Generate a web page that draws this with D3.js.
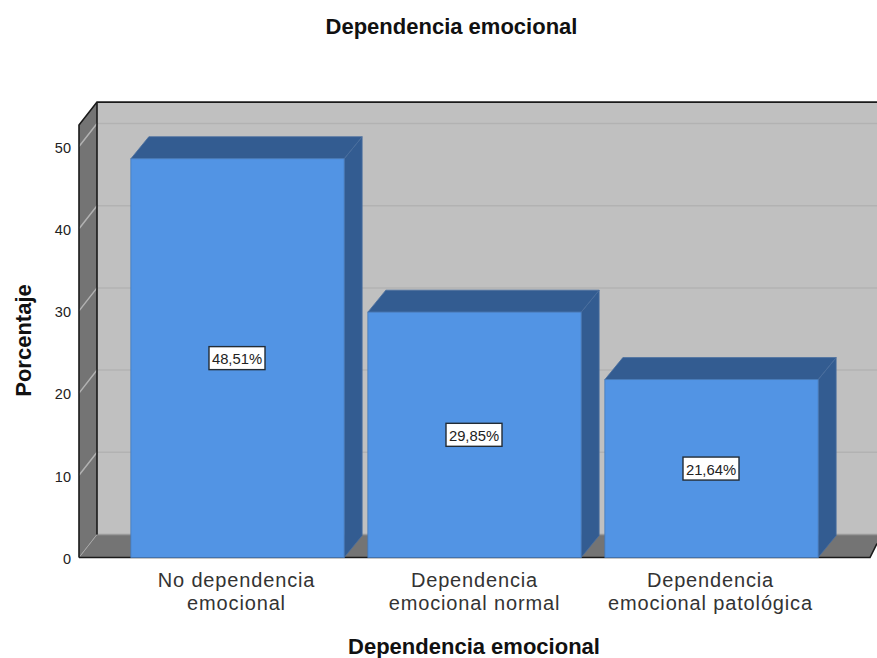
<!DOCTYPE html>
<html>
<head>
<meta charset="utf-8">
<script src="https://cdn.jsdelivr.net/npm/d3@7"></script>
<style>
  html, body { margin: 0; padding: 0; background: #fff; }
  svg { display: block; }
  text { font-family: "Liberation Sans", Arial, sans-serif; }
</style>
</head>
<body>
<svg id="chart" width="877" height="658"></svg>
<script>
const categories = [
  ["No dependencia", "emocional"],
  ["Dependencia", "emocional normal"],
  ["Dependencia", "emocional patológica"]
];
const percentages = [48.51, 29.85, 21.64];
const valueLabels = ["48,51%", "29,85%", "21,64%"];
const yTicks = [0, 10, 20, 30, 40, 50];
const chartTitle = "Dependencia emocional";
const xTitle = "Dependencia emocional";
const yTitle = "Porcentaje";

const width = 877, height = 658;
const svg = d3.select("#chart");

// Oblique offset of the 3D box: back plane relative to the front plane.
const depthX = 18, depthY = -23;
const barDepthX = 18, barDepthY = -22;
const frontLeft = 79, frontBottom = 557.5;
const frontRight = 870;

const y = d3.scaleLinear().domain([0, 50]).range([frontBottom, 146.5]);
const x = d3.scaleBand()
  .domain(d3.range(categories.length))
  .range([119, 830])
  .paddingInner(0.1)
  .paddingOuter(0.05);

const poly = pts => pts.map(p => p.join(",")).join(" ");
const axisTop = y(52.6);

// Back wall
svg.append("rect")
  .attr("x", frontLeft + depthX).attr("y", axisTop + depthY)
  .attr("width", width - frontLeft - depthX)
  .attr("height", frontBottom - axisTop)
  .attr("fill", "#c0c0c0");

// Left wall
svg.append("polygon")
  .attr("points", poly([
    [frontLeft, axisTop], [frontLeft + depthX, axisTop + depthY],
    [frontLeft + depthX, frontBottom + depthY], [frontLeft, frontBottom]
  ]))
  .attr("fill", "#747474");

// Floor
svg.append("polygon")
  .attr("points", poly([
    [frontLeft, frontBottom], [frontLeft + depthX, frontBottom + depthY],
    [width, frontBottom + depthY], [width, frontBottom + depthY + 9], [frontRight, frontBottom]
  ]))
  .attr("fill", "#747474");

// Gridlines run along the left wall and across the back wall
const gridTicks = yTicks.slice(1);
svg.append("g").selectAll("polyline").data(gridTicks).join("polyline")
  .attr("points", d => poly([
    [frontLeft, y(d)], [frontLeft + depthX, y(d) + depthY], [width, y(d) + depthY]
  ]))
  .attr("fill", "none")
  .attr("stroke", "#b2b2b2")
  .attr("stroke-width", 1.5);

// Floor seam lines
svg.append("line")
  .attr("x1", frontLeft).attr("y1", frontBottom)
  .attr("x2", frontLeft + depthX).attr("y2", frontBottom + depthY)
  .attr("stroke", "#a8a8a8").attr("stroke-width", 1);
svg.append("line")
  .attr("x1", frontLeft + depthX).attr("y1", frontBottom + depthY)
  .attr("x2", width).attr("y2", frontBottom + depthY)
  .attr("stroke", "#9a9a9a").attr("stroke-width", 1.5);

// Box edges
const edge = svg.append("g").attr("fill", "none").attr("stroke", "#1a1a1a").attr("stroke-width", 1.6);
edge.append("polyline").attr("points", poly([
  [frontLeft, frontBottom], [frontLeft, axisTop],
  [frontLeft + depthX, axisTop + depthY], [width, axisTop + depthY]
]));
edge.append("line")
  .attr("x1", frontLeft + depthX).attr("y1", axisTop + depthY)
  .attr("x2", frontLeft + depthX).attr("y2", frontBottom + depthY);
edge.append("polyline").attr("points", poly([
  [frontLeft, frontBottom], [frontRight, frontBottom],
  [width, frontBottom + depthY + 9]
]));

// Bars: side and top faces behind the front face
const bars = svg.append("g").selectAll("g").data(percentages).join("g");
bars.append("polygon")
  .attr("points", (d, i) => {
    const r = x(i) + x.bandwidth();
    return poly([
      [r, y(d)], [r + barDepthX, y(d) + barDepthY],
      [r + barDepthX, y(0) + barDepthY], [r, y(0)]
    ]);
  })
  .attr("fill", "#335c91")
  .attr("stroke", "#4a6f9e")
  .attr("stroke-width", 0.8);
bars.append("polygon")
  .attr("points", (d, i) => {
    const l = x(i), r = l + x.bandwidth();
    return poly([
      [l, y(d)], [l + barDepthX, y(d) + barDepthY],
      [r + barDepthX, y(d) + barDepthY], [r, y(d)]
    ]);
  })
  .attr("fill", "#335c91")
  .attr("stroke", "#4a6f9e")
  .attr("stroke-width", 0.8);
bars.append("rect")
  .attr("x", (d, i) => x(i))
  .attr("y", d => y(d))
  .attr("width", x.bandwidth())
  .attr("height", d => y(0) - y(d))
  .attr("fill", "#5294e4")
  .attr("stroke", "#4679b8")
  .attr("stroke-width", 0.8);

// Value labels in boxed tags at the middle of each bar
const tagW = 56, tagH = 25;
const tags = svg.append("g").selectAll("g").data(percentages).join("g")
  .attr("transform", (d, i) => `translate(${x(i) + x.bandwidth() / 2 - 0.5},${y(d / 2)})`);
tags.append("rect")
  .attr("x", -tagW / 2).attr("y", -tagH / 2 + 1)
  .attr("width", tagW).attr("height", tagH - 2)
  .attr("fill", "#fff").attr("stroke", "#232c35").attr("stroke-width", 1.4);
tags.append("text")
  .attr("y", 1).attr("dy", "0.36em")
  .attr("text-anchor", "middle")
  .attr("font-size", 14.8)
  .attr("fill", "#222")
  .text((d, i) => valueLabels[i]);

// Value axis labels
svg.append("g").selectAll("text").data(yTicks).join("text")
  .attr("x", 71).attr("y", d => y(d) + 1)
  .attr("dy", "0.36em")
  .attr("text-anchor", "end")
  .attr("font-size", 14.5)
  .attr("fill", "#222")
  .text(d => d);

// Category labels: two lines, slightly tracked out
const catLabels = svg.append("g").selectAll("text").data(categories).join("text")
  .attr("text-anchor", "middle")
  .attr("font-size", 20)
  .attr("letter-spacing", 0.85)
  .attr("fill", "#333");
catLabels.selectAll("tspan").data((d, i) => d.map(line => ({ line, i }))).join("tspan")
  .attr("x", d => x(d.i) + x.bandwidth() / 2 - (d.i === 1 ? 0 : 1))
  .attr("y", (d, j) => 587 + j * 23)
  .text(d => d.line);

// Titles
svg.append("text").attr("x", 451.5).attr("y", 34)
  .attr("text-anchor", "middle").attr("font-size", 22).attr("font-weight", "bold")
  .attr("fill", "#111").text(chartTitle);
svg.append("text").attr("x", 474).attr("y", 654)
  .attr("text-anchor", "middle").attr("font-size", 22).attr("font-weight", "bold")
  .attr("fill", "#111").text(xTitle);
svg.append("text")
  .attr("transform", "translate(31,340.5) rotate(-90)")
  .attr("text-anchor", "middle").attr("font-size", 22).attr("font-weight", "bold")
  .attr("fill", "#111").text(yTitle);
</script>
</body>
</html>
